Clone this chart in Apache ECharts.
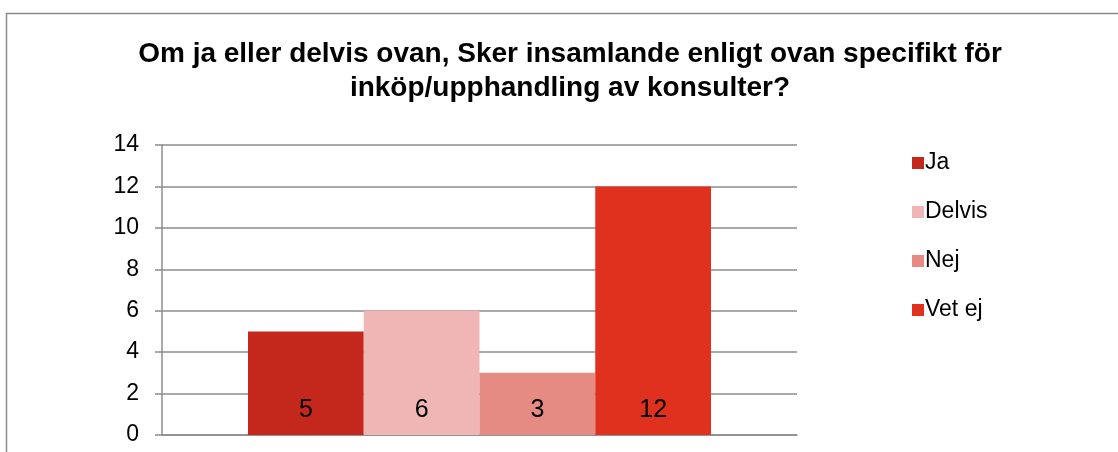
<!DOCTYPE html>
<html style="height: 100%">
<head>
    <meta charset="utf-8">
    <script src="https://cdn.jsdelivr.net/npm/echarts@6/dist/echarts.min.js"></script>
</head>
<body style="height: 100%; margin: 0; background: #fff">
<div id="container" style="width: 1118px; height: 452px"></div>
<script type="text/javascript">
    var titleText = 'Om ja eller delvis ovan, Sker insamlande enligt ovan specifikt för\ninköp/upphandling av konsulter?';
    var categories = [''];
    var seriesNames = ['Ja', 'Delvis', 'Nej', 'Vet ej'];
    var seriesValues = [[5], [6], [3], [12]];
    var colors = ['#C4281C', '#EFB6B5', '#E68A84', '#E0301E'];
    var yTicks = { min: 0, max: 14, interval: 2 };

    var chart = echarts.init(document.getElementById('container'), null, { renderer: 'canvas' });

    var series = seriesNames.map(function (name, i) {
        return {
            name: name,
            type: 'bar',
            data: seriesValues[i],
            barWidth: 115.75,
            barGap: '0%',
            itemStyle: { color: colors[i] },
            label: {
                show: true,
                position: 'insideBottom',
                distance: 12,
                color: '#000',
                fontSize: 25,
                fontFamily: 'Liberation Sans'
            }
        };
    });

    var option = {
        animation: false,
        backgroundColor: '#fff',
        color: colors,
        graphic: [{
            type: 'rect',
            left: 4, top: 11,
            shape: { width: 1200, height: 600 },
            style: { fill: 'none', stroke: '#8a8a8a', lineWidth: 1.5 },
            silent: true
        }],
        title: {
            text: titleText,
            left: 565,
            textAlign: 'center',
            top: 32,
            textStyle: {
                fontFamily: 'Liberation Sans',
                fontWeight: 'bold',
                fontSize: 28,
                lineHeight: 34,
                color: '#000'
            }
        },
        legend: {
            orient: 'vertical',
            left: 907,
            top: 146,
            itemWidth: 12,
            itemHeight: 12,
            itemGap: 25,
            icon: 'rect',
            textStyle: { fontFamily: 'Liberation Sans', fontSize: 23, lineHeight: 24, color: '#000', padding: [0, 0, 0, -4] },
            data: seriesNames
        },
        grid: { left: 162, right: 1118 - 797, top: 145, bottom: 452 - 435 },
        xAxis: {
            type: 'category',
            data: categories,
            axisLine: { lineStyle: { color: '#8c8c8c', width: 1.5 } },
            axisTick: { show: false },
            axisLabel: { show: false }
        },
        yAxis: {
            type: 'value',
            min: yTicks.min,
            max: yTicks.max,
            interval: yTicks.interval,
            axisLine: { show: true, lineStyle: { color: '#8c8c8c', width: 1.5 } },
            axisTick: { show: true, length: 7, lineStyle: { color: '#8c8c8c', width: 1.5 } },
            splitLine: { lineStyle: { color: '#8c8c8c', width: 1.5 } },
            axisLabel: { fontFamily: 'Liberation Sans', fontSize: 23, color: '#000', margin: 23 }
        },
        series: series
    };

    chart.setOption(option);
</script>
</body>
</html>
